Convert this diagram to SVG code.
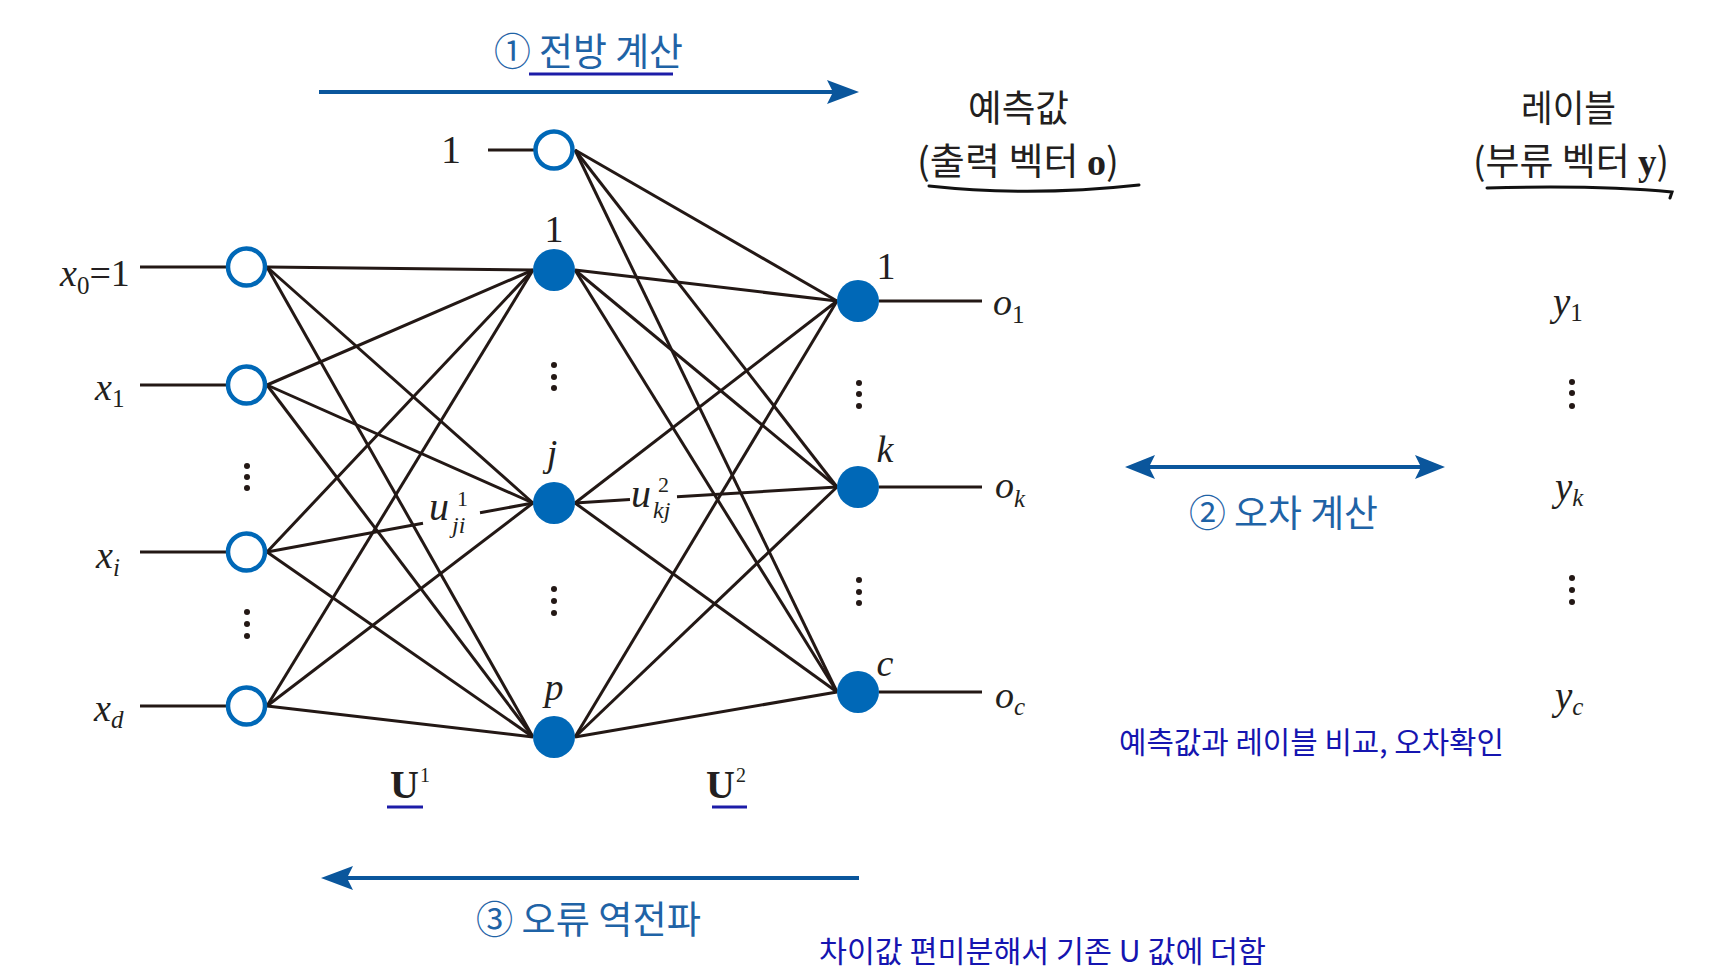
<svg xmlns="http://www.w3.org/2000/svg" width="1730" height="979" viewBox="0 0 1730 979">
<style>
.ln{stroke:#231815;stroke-width:3;fill:none}
.open{fill:#fff;stroke:#0068b7;stroke-width:4.5}
.fl{fill:#0068b7}
.dot{fill:#231815}
.m{font-family:"Liberation Serif",serif;fill:#231f20}
.it{font-style:italic}
.kr{font-family:"Noto Sans CJK KR","Noto Sans",sans-serif}
.blue{fill:#1f63a6}
.navy{fill:#1515b0}
.blk{fill:#231f20}
.arrow{stroke:#0a569c;stroke-width:4;fill:none}
.head{fill:#0a569c}
.ul{stroke:#1c1ca8;stroke-width:3}
</style>
<rect width="1730" height="979" fill="#fff"/>

<g id="connectors">
  <line class="ln" x1="267" y1="267" x2="533" y2="270"/>
  <line class="ln" x1="267" y1="267" x2="533" y2="503"/>
  <line class="ln" x1="267" y1="267" x2="533" y2="737"/>
  <line class="ln" x1="267" y1="385" x2="533" y2="270"/>
  <line class="ln" x1="267" y1="385" x2="533" y2="503"/>
  <line class="ln" x1="267" y1="385" x2="533" y2="737"/>
  <line class="ln" x1="267" y1="552" x2="533" y2="270"/>
  <line class="ln" x1="267" y1="552" x2="423" y2="523.3"/>
  <line class="ln" x1="480" y1="512.8" x2="533" y2="503"/>
  <line class="ln" x1="267" y1="552" x2="533" y2="737"/>
  <line class="ln" x1="267" y1="706" x2="533" y2="270"/>
  <line class="ln" x1="267" y1="706" x2="533" y2="503"/>
  <line class="ln" x1="267" y1="706" x2="533" y2="737"/>
  <line class="ln" x1="575" y1="150" x2="837" y2="301"/>
  <line class="ln" x1="575" y1="150" x2="837" y2="487"/>
  <line class="ln" x1="575" y1="150" x2="837" y2="692"/>
  <line class="ln" x1="575" y1="270" x2="837" y2="301"/>
  <line class="ln" x1="575" y1="270" x2="837" y2="487"/>
  <line class="ln" x1="575" y1="270" x2="837" y2="692"/>
  <line class="ln" x1="575" y1="503" x2="837" y2="301"/>
  <line class="ln" x1="575" y1="503" x2="630" y2="499.6"/>
  <line class="ln" x1="677" y1="496.8" x2="837" y2="487"/>
  <line class="ln" x1="575" y1="503" x2="837" y2="692"/>
  <line class="ln" x1="575" y1="737" x2="837" y2="301"/>
  <line class="ln" x1="575" y1="737" x2="837" y2="487"/>
  <line class="ln" x1="575" y1="737" x2="837" y2="692"/>
  <line class="ln" x1="140" y1="267" x2="226" y2="267"/>
  <line class="ln" x1="140" y1="385" x2="226" y2="385"/>
  <line class="ln" x1="140" y1="552" x2="226" y2="552"/>
  <line class="ln" x1="140" y1="706" x2="226" y2="706"/>
  <line class="ln" x1="488" y1="150" x2="534" y2="150"/>
  <line class="ln" x1="879" y1="301" x2="982" y2="301"/>
  <line class="ln" x1="879" y1="487" x2="982" y2="487"/>
  <line class="ln" x1="879" y1="692" x2="982" y2="692"/>
</g>

<g id="input-nodes">
  <circle id="in0" class="open" cx="246.5" cy="267" r="18.5"/>
  <circle id="in1" class="open" cx="246.5" cy="385" r="18.5"/>
  <circle id="ini" class="open" cx="246.5" cy="552" r="18.5"/>
  <circle id="ind" class="open" cx="246.5" cy="706" r="18.5"/>
</g>
<g id="hidden-nodes">
  <circle id="hbias" class="open" cx="554" cy="150" r="18.5"/>
  <circle id="h1" class="fl" cx="554" cy="270" r="21"/>
  <circle id="hj" class="fl" cx="554" cy="503" r="21"/>
  <circle id="hp" class="fl" cx="554" cy="737" r="21"/>
</g>
<g id="output-nodes">
  <circle id="o1" class="fl" cx="858" cy="301" r="21"/>
  <circle id="ok" class="fl" cx="858" cy="487" r="21"/>
  <circle id="oc" class="fl" cx="858" cy="692" r="21"/>
</g>

<g id="dots" class="dot">
  <circle cx="247" cy="466" r="3"/><circle cx="247" cy="477" r="3"/><circle cx="247" cy="488" r="3"/>
  <circle cx="247" cy="612" r="3"/><circle cx="247" cy="624" r="3"/><circle cx="247" cy="636" r="3"/>
  <circle cx="554" cy="365" r="3"/><circle cx="554" cy="377" r="3"/><circle cx="554" cy="388" r="3"/>
  <circle cx="554" cy="589" r="3"/><circle cx="554" cy="601" r="3"/><circle cx="554" cy="613" r="3"/>
  <circle cx="859" cy="383" r="3"/><circle cx="859" cy="394" r="3"/><circle cx="859" cy="406" r="3"/>
  <circle cx="859" cy="580" r="3"/><circle cx="859" cy="592" r="3"/><circle cx="859" cy="603" r="3"/>
  <circle cx="1572" cy="382" r="3"/><circle cx="1572" cy="393" r="3"/><circle cx="1572" cy="406" r="3"/>
  <circle cx="1572" cy="578" r="3"/><circle cx="1572" cy="590" r="3"/><circle cx="1572" cy="602" r="3"/>
</g>

<g id="input-labels" class="m">
  <text x="60" y="286" font-size="38"><tspan class="it">x</tspan><tspan font-size="25" dy="8">0</tspan><tspan dy="-8">=1</tspan></text>
  <text x="95" y="400" font-size="38"><tspan class="it">x</tspan><tspan font-size="25" dy="7">1</tspan></text>
  <text x="96" y="568" font-size="38"><tspan class="it">x</tspan><tspan class="it" font-size="25" dy="8">i</tspan></text>
  <text x="94" y="721" font-size="38"><tspan class="it">x</tspan><tspan class="it" font-size="25" dy="7">d</tspan></text>
</g>

<g id="node-labels" class="m">
  <text x="451" y="163" font-size="40" text-anchor="middle">1</text>
  <text x="554" y="242" font-size="38" text-anchor="middle">1</text>
  <text x="552" y="466" font-size="38" text-anchor="middle" class="it">j</text>
  <text x="554" y="700" font-size="38" text-anchor="middle" class="it">p</text>
  <text x="886" y="279" font-size="38" text-anchor="middle">1</text>
  <text x="885" y="462" font-size="38" text-anchor="middle" class="it">k</text>
  <text x="885" y="676" font-size="38" text-anchor="middle" class="it">c</text>
</g>

<g id="weight-labels" class="m">
  <text x="429" y="520" font-size="40" class="it">u</text>
  <text x="457" y="506" font-size="22">1</text>
  <text x="452" y="533" font-size="24" class="it">ji</text>
  <text x="631" y="507" font-size="40" class="it">u</text>
  <text x="658" y="492" font-size="22">2</text>
  <text x="653" y="518" font-size="24" class="it">kj</text>
  <text x="390" y="798" font-size="40" font-weight="bold">U</text>
  <text x="420" y="782" font-size="20">1</text>
  <line class="ul" x1="387" y1="807" x2="423" y2="807"/>
  <text x="706" y="798" font-size="40" font-weight="bold">U</text>
  <text x="736" y="782" font-size="20">2</text>
  <line class="ul" x1="712" y1="807" x2="747" y2="807"/>
</g>

<g id="output-labels" class="m">
  <text x="993" y="315" font-size="38"><tspan class="it">o</tspan><tspan font-size="25" dy="8">1</tspan></text>
  <text x="995" y="498" font-size="38"><tspan class="it">o</tspan><tspan class="it" font-size="25" dy="9">k</tspan></text>
  <text x="995" y="708" font-size="38"><tspan class="it">o</tspan><tspan class="it" font-size="25" dy="7">c</tspan></text>
  <text x="1553" y="315" font-size="39"><tspan class="it">y</tspan><tspan font-size="25" dy="6">1</tspan></text>
  <text x="1555" y="500" font-size="39"><tspan class="it">y</tspan><tspan class="it" font-size="25" dy="6">k</tspan></text>
  <text x="1555" y="709" font-size="39"><tspan class="it">y</tspan><tspan class="it" font-size="25" dy="6">c</tspan></text>
</g>

<g id="header-predicted">
  <text class="kr blk" x="968" y="122" font-size="37" textLength="101" lengthAdjust="spacingAndGlyphs">예측값</text>
  <text class="kr blk" x="917" y="175" font-size="37" textLength="202" lengthAdjust="spacingAndGlyphs">(출력 벡터 <tspan font-family="Liberation Serif" font-weight="bold">o</tspan>)</text>
  <path d="M929,186 Q1030,197 1139,185" stroke="#111" stroke-width="3" fill="none" stroke-linecap="round"/>
</g>
<g id="header-label">
  <text class="kr blk" x="1521" y="122" font-size="37" textLength="95" lengthAdjust="spacingAndGlyphs">레이블</text>
  <text class="kr blk" x="1473" y="175" font-size="37" textLength="196" lengthAdjust="spacingAndGlyphs">(부류 벡터 <tspan font-family="Liberation Serif" font-weight="bold">y</tspan>)</text>
  <path d="M1487,188 C1560,186 1630,188 1672,192 L1670,198" stroke="#111" stroke-width="3" fill="none" stroke-linecap="round"/>
</g>

<g id="forward">
  <text class="kr blue" x="494" y="65" font-size="38" textLength="189" lengthAdjust="spacingAndGlyphs">① 전방 계산</text>
  <line class="ul" x1="529" y1="74" x2="673" y2="74"/>
  <line class="arrow" x1="319" y1="92" x2="835" y2="92"/>
  <polygon class="head" points="859,92 827,80 833,92 827,104"/>
</g>

<g id="error">
  <line class="arrow" x1="1140" y1="467" x2="1430" y2="467" stroke-width="3.5"/>
  <polygon class="head" points="1125,467 1155,455 1149,467 1155,479"/>
  <polygon class="head" points="1445,467 1415,455 1421,467 1415,479"/>
  <text class="kr blue" x="1189" y="527" font-size="37" textLength="189" lengthAdjust="spacingAndGlyphs">② 오차 계산</text>
  <text class="kr navy" x="1119" y="753" font-size="30" textLength="385" lengthAdjust="spacingAndGlyphs">예측값과 레이블 비교, 오차확인</text>
</g>

<g id="backprop">
  <line class="arrow" x1="345" y1="878" x2="859" y2="878"/>
  <polygon class="head" points="321,878 353,866 347,878 353,890"/>
  <text class="kr blue" x="476" y="933" font-size="38" textLength="225" lengthAdjust="spacingAndGlyphs">③ 오류 역전파</text>
  <text class="kr navy" x="819" y="962" font-size="30" textLength="447" lengthAdjust="spacingAndGlyphs">차이값 편미분해서 기존 U 값에 더함</text>
</g>
</svg>
